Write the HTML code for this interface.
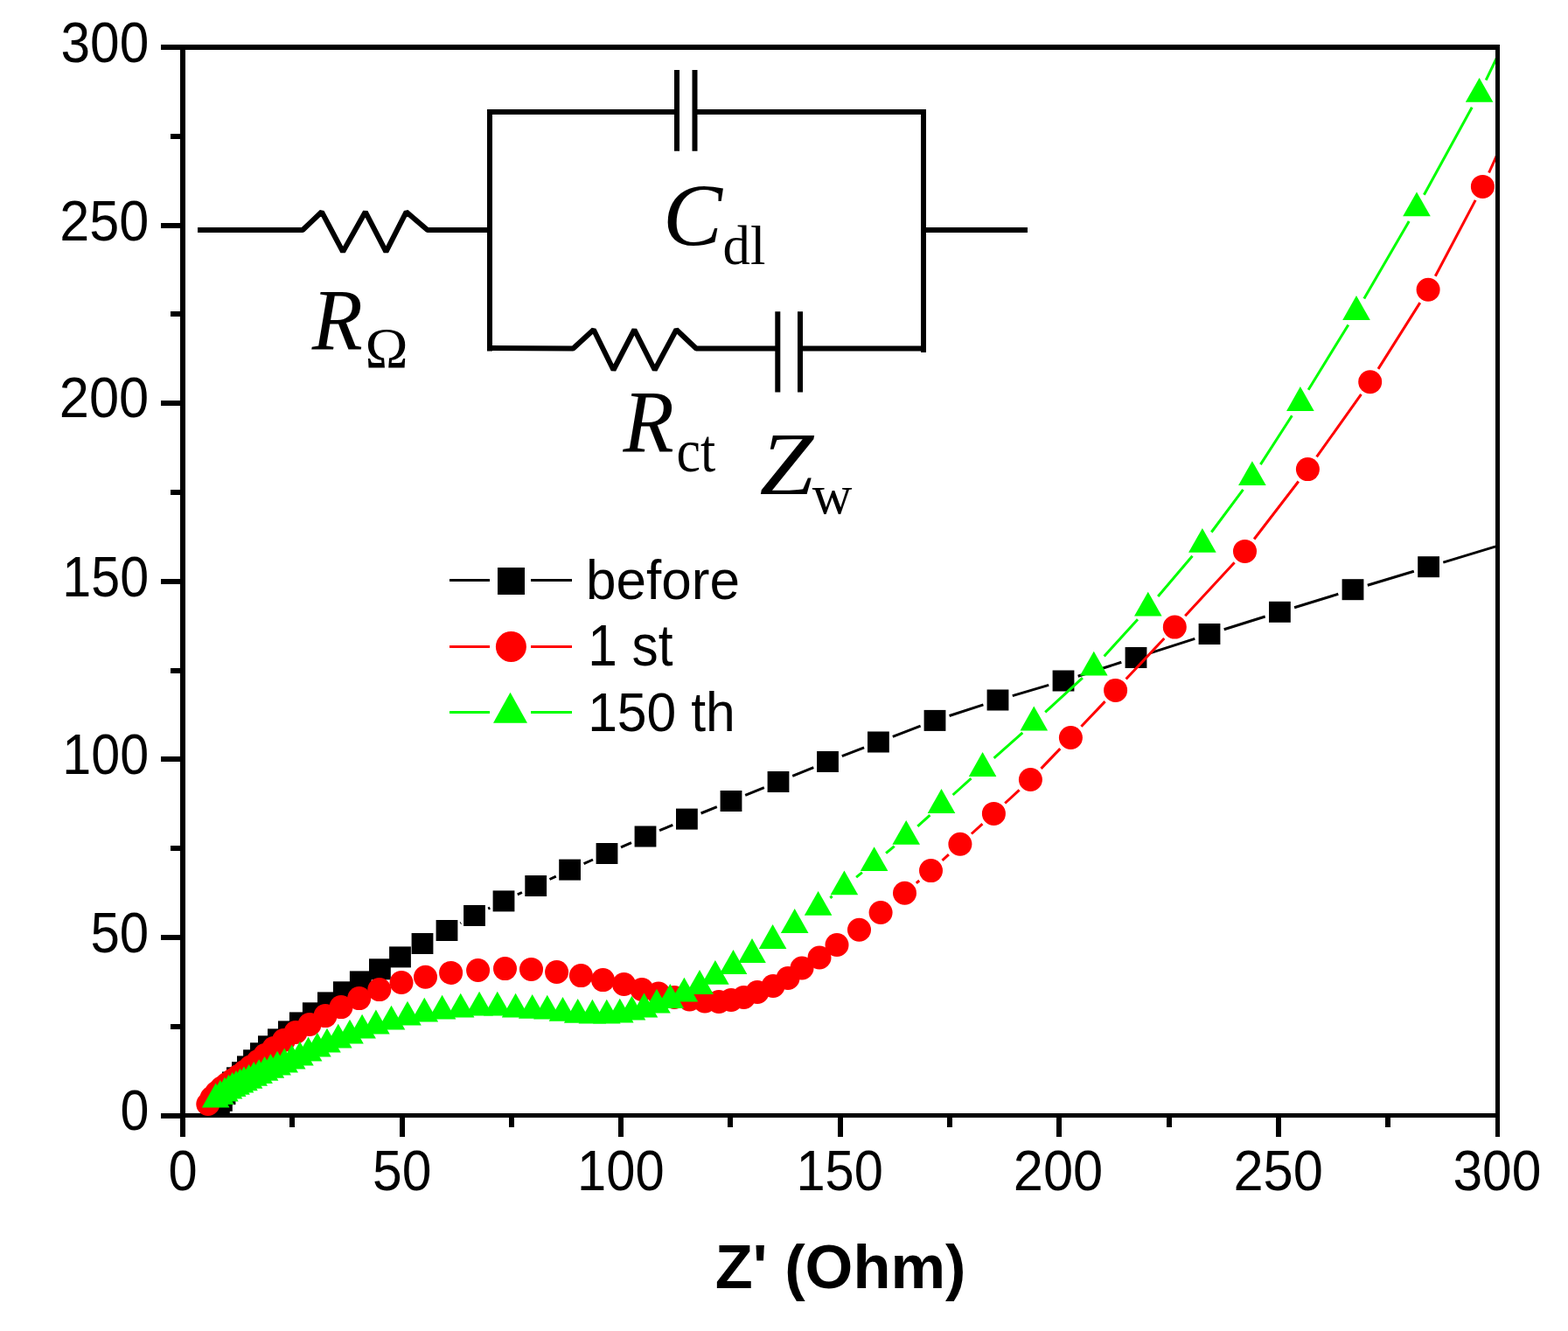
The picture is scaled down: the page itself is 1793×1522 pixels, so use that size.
<!DOCTYPE html><html><head><meta charset="utf-8"><style>html,body{margin:0;padding:0;background:#fff;}svg{display:block;}.t{font-family:"Liberation Sans",Arial,sans-serif;}.s{font-family:"Liberation Serif","Times New Roman",serif;}</style></head><body><svg width="1793" height="1522" viewBox="0 0 1793 1522"><rect width="1793" height="1522" fill="#fff"/><defs><clipPath id="pc"><rect x="212.0" y="57.0" width="1498.0" height="1216.0"/></clipPath></defs><g stroke="#000" fill="none"><path d="M206.0 54.0H1715.0" stroke-width="6"/><path d="M206.0 1275.5H1715.0" stroke-width="5"/><path d="M209.0 51.0V1278.0" stroke-width="6"/><path d="M1712.5 51.0V1278.0" stroke-width="5"/><path d="M209.0 1275.5V1300.0M209.0 1276.0H184.0M460.0 1275.5V1300.0M209.0 1072.0H184.0M710.0 1275.5V1300.0M209.0 868.0H184.0M961.0 1275.5V1300.0M209.0 665.0H184.0M1211.0 1275.5V1300.0M209.0 461.0H184.0M1462.0 1275.5V1300.0M209.0 258.0H184.0M209.0 54.0H184.0" stroke-width="6" stroke-linecap="butt"/><path d="M1712.5 1275.5V1300.0" stroke-width="5"/><path d="M334.0 1275.5V1289.0M209.0 1174.0H195.0M585.0 1275.5V1289.0M209.0 970.0H195.0M835.0 1275.5V1289.0M209.0 767.0H195.0M1086.0 1275.5V1289.0M209.0 563.0H195.0M1337.0 1275.5V1289.0M209.0 359.0H195.0M1587.0 1275.5V1289.0M209.0 156.0H195.0" stroke-width="6" stroke-linecap="butt"/></g><g clip-path="url(#pc)" fill="none" stroke-width="3.0" stroke-linecap="butt"><path d="M526.4 1055.7L527.1 1055.3M558.2 1039.2L560.3 1038.2M591.8 1022.9L596.9 1020.5M628.5 1005.5L635.8 1002.1M667.6 987.6L678.0 983.0M710.0 968.9L722.0 963.6M754.1 949.7L769.3 943.4M801.6 930.0L819.8 922.6M852.2 909.4L873.8 900.6M906.2 887.4L930.3 877.6M962.8 864.7L988.1 854.8M1020.8 842.3L1052.6 830.1M1085.6 818.5L1124.4 805.9M1157.8 795.6L1199.2 783.4M1232.7 773.2L1282.3 757.3M1315.7 746.6L1366.3 730.4M1399.7 719.8L1446.7 705.0M1480.1 694.7L1530.3 679.3M1563.8 669.2L1616.8 653.2M1650.3 643.1L1760.0 609.9" stroke="#000"/></g><g fill="#000"><rect x="238.0" y="1250.5" width="24.8" height="24.0"/><rect x="241.0" y="1246.8" width="24.8" height="24.0"/><rect x="244.6" y="1239.2" width="24.8" height="24.0"/><rect x="249.9" y="1230.4" width="24.8" height="24.0"/><rect x="254.0" y="1225.5" width="24.8" height="24.0"/><rect x="259.0" y="1220.3" width="24.8" height="24.0"/><rect x="265.0" y="1214.2" width="24.8" height="24.0"/><rect x="271.0" y="1207.4" width="24.8" height="24.0"/><rect x="278.1" y="1200.3" width="24.8" height="24.0"/><rect x="286.0" y="1192.3" width="24.8" height="24.0"/><rect x="295.0" y="1184.3" width="24.8" height="24.0"/><rect x="306.0" y="1176.4" width="24.8" height="24.0"/><rect x="318.0" y="1167.4" width="24.8" height="24.0"/><rect x="330.9" y="1157.4" width="24.8" height="24.0"/><rect x="345.9" y="1146.3" width="24.8" height="24.0"/><rect x="363.0" y="1134.4" width="24.8" height="24.0"/><rect x="380.9" y="1122.3" width="24.8" height="24.0"/><rect x="399.9" y="1110.4" width="24.8" height="24.0"/><rect x="422.0" y="1096.3" width="24.8" height="24.0"/><rect x="445.1" y="1082.4" width="24.8" height="24.0"/><rect x="470.6" y="1067.0" width="24.8" height="24.0"/><rect x="498.6" y="1052.0" width="24.8" height="24.0"/><rect x="530.1" y="1035.0" width="24.8" height="24.0"/><rect x="563.6" y="1018.4" width="24.8" height="24.0"/><rect x="600.3" y="1001.0" width="24.8" height="24.0"/><rect x="639.2" y="982.6" width="24.8" height="24.0"/><rect x="681.6" y="964.0" width="24.8" height="24.0"/><rect x="725.6" y="944.5" width="24.8" height="24.0"/><rect x="773.0" y="924.6" width="24.8" height="24.0"/><rect x="823.6" y="904.0" width="24.8" height="24.0"/><rect x="877.6" y="882.0" width="24.8" height="24.0"/><rect x="934.1" y="859.0" width="24.8" height="24.0"/><rect x="992.0" y="836.5" width="24.8" height="24.0"/><rect x="1056.6" y="811.9" width="24.8" height="24.0"/><rect x="1128.6" y="788.5" width="24.8" height="24.0"/><rect x="1203.6" y="766.5" width="24.8" height="24.0"/><rect x="1286.6" y="740.0" width="24.8" height="24.0"/><rect x="1370.6" y="713.0" width="24.8" height="24.0"/><rect x="1451.0" y="687.8" width="24.8" height="24.0"/><rect x="1534.6" y="662.2" width="24.8" height="24.0"/><rect x="1621.2" y="636.2" width="24.8" height="24.0"/></g><g clip-path="url(#pc)" fill="none" stroke-width="3.0" stroke-linecap="butt"><path d="M1047.8 1009.8L1051.2 1007.0M1077.5 983.8L1084.9 977.1M1110.9 953.5L1123.4 942.2M1149.2 918.5L1165.6 903.4M1190.5 878.9L1212.3 856.1M1236.4 830.8L1263.6 802.1M1287.6 776.6L1331.3 729.9M1355.2 704.3L1411.6 643.2M1434.1 616.5L1484.8 550.5M1505.6 522.4L1556.5 450.9M1576.0 421.9L1623.8 346.1M1641.3 315.8L1687.2 228.9M1702.6 197.5L1735.4 125.4" stroke="#f00"/></g><g fill="#f00"><circle cx="237.8" cy="1262.5" r="13.5"/><circle cx="242.0" cy="1255.5" r="13.5"/><circle cx="247.5" cy="1249.5" r="13.5"/><circle cx="253.5" cy="1244.0" r="13.5"/><circle cx="259.5" cy="1239.5" r="13.5"/><circle cx="266.0" cy="1235.0" r="13.5"/><circle cx="272.5" cy="1230.5" r="13.5"/><circle cx="279.5" cy="1225.5" r="13.5"/><circle cx="286.5" cy="1220.0" r="13.5"/><circle cx="295.0" cy="1213.5" r="13.5"/><circle cx="303.0" cy="1206.5" r="13.5"/><circle cx="313.0" cy="1198.5" r="13.5"/><circle cx="324.5" cy="1189.5" r="13.5"/><circle cx="338.0" cy="1180.5" r="13.5"/><circle cx="354.0" cy="1171.5" r="13.5"/><circle cx="372.0" cy="1161.6" r="13.5"/><circle cx="390.0" cy="1151.6" r="13.5"/><circle cx="410.7" cy="1141.6" r="13.5"/><circle cx="433.8" cy="1131.6" r="13.5"/><circle cx="459.0" cy="1123.5" r="13.5"/><circle cx="486.5" cy="1117.3" r="13.5"/><circle cx="515.6" cy="1112.4" r="13.5"/><circle cx="546.6" cy="1109.5" r="13.5"/><circle cx="577.5" cy="1107.6" r="13.5"/><circle cx="607.5" cy="1108.4" r="13.5"/><circle cx="636.6" cy="1111.5" r="13.5"/><circle cx="664.4" cy="1115.6" r="13.5"/><circle cx="689.5" cy="1120.6" r="13.5"/><circle cx="713.5" cy="1125.5" r="13.5"/><circle cx="734.0" cy="1131.5" r="13.5"/><circle cx="753.0" cy="1136.1" r="13.5"/><circle cx="771.0" cy="1140.5" r="13.5"/><circle cx="788.5" cy="1142.9" r="13.5"/><circle cx="806.0" cy="1145.0" r="13.5"/><circle cx="822.0" cy="1145.5" r="13.5"/><circle cx="836.0" cy="1143.5" r="13.5"/><circle cx="850.5" cy="1140.5" r="13.5"/><circle cx="866.0" cy="1134.5" r="13.5"/><circle cx="884.0" cy="1127.5" r="13.5"/><circle cx="901.0" cy="1118.5" r="13.5"/><circle cx="917.0" cy="1107.0" r="13.5"/><circle cx="937.0" cy="1095.0" r="13.5"/><circle cx="957.0" cy="1080.5" r="13.5"/><circle cx="982.5" cy="1063.2" r="13.5"/><circle cx="1007.1" cy="1043.5" r="13.5"/><circle cx="1034.5" cy="1021.2" r="13.5"/><circle cx="1064.5" cy="995.6" r="13.5"/><circle cx="1097.9" cy="965.3" r="13.5"/><circle cx="1136.4" cy="930.4" r="13.5"/><circle cx="1178.4" cy="891.5" r="13.5"/><circle cx="1224.4" cy="843.5" r="13.5"/><circle cx="1275.6" cy="789.4" r="13.5"/><circle cx="1343.3" cy="717.1" r="13.5"/><circle cx="1423.5" cy="630.4" r="13.5"/><circle cx="1495.4" cy="536.6" r="13.5"/><circle cx="1566.7" cy="436.7" r="13.5"/><circle cx="1633.1" cy="331.3" r="13.5"/><circle cx="1695.4" cy="213.4" r="13.5"/></g><g clip-path="url(#pc)" fill="none" stroke-width="3.0" stroke-linecap="butt"><path d="M949.3 1026.7L951.7 1024.8M979.1 1003.1L985.9 997.6M1013.1 975.6L1022.7 967.6M1049.3 944.9L1063.4 932.2M1089.6 909.0L1110.5 890.2M1136.6 866.9L1169.3 837.8M1195.2 814.3L1237.9 775.1M1262.6 750.4L1301.0 708.2M1324.2 682.0L1363.5 635.8M1385.3 608.5L1421.5 559.8M1441.4 531.1L1477.4 475.3M1496.1 445.7L1541.8 371.5M1559.8 341.5L1611.2 253.1M1628.4 222.7L1683.2 122.8M1699.2 91.7L1731.6 24.3" stroke="#0f0"/></g><g fill="#0f0"><path d="M246.7 1238.6L262.5 1266.4L230.9 1266.4Z"/><path d="M251.8 1235.1L267.6 1262.9L236.0 1262.9Z"/><path d="M256.9 1231.8L272.7 1259.6L241.1 1259.6Z"/><path d="M261.5 1228.7L277.3 1256.5L245.7 1256.5Z"/><path d="M265.7 1226.1L281.5 1253.9L249.9 1253.9Z"/><path d="M270.0 1223.9L285.8 1251.7L254.2 1251.7Z"/><path d="M274.5 1221.7L290.3 1249.5L258.7 1249.5Z"/><path d="M279.0 1219.5L294.8 1247.3L263.2 1247.3Z"/><path d="M284.6 1216.9L300.4 1244.7L268.8 1244.7Z"/><path d="M290.2 1213.9L306.0 1241.7L274.4 1241.7Z"/><path d="M296.1 1211.3L311.9 1239.1L280.3 1239.1Z"/><path d="M302.6 1208.0L318.4 1235.8L286.8 1235.8Z"/><path d="M309.4 1204.9L325.2 1232.7L293.6 1232.7Z"/><path d="M317.1 1201.7L332.9 1229.5L301.3 1229.5Z"/><path d="M325.2 1198.6L341.0 1226.4L309.4 1226.4Z"/><path d="M333.7 1194.6L349.5 1222.4L317.9 1222.4Z"/><path d="M342.9 1190.8L358.7 1218.6L327.1 1218.6Z"/><path d="M352.6 1185.8L368.4 1213.6L336.8 1213.6Z"/><path d="M362.9 1180.7L378.7 1208.5L347.1 1208.5Z"/><path d="M374.0 1175.8L389.8 1203.6L358.2 1203.6Z"/><path d="M386.8 1170.8L402.6 1198.6L371.0 1198.6Z"/><path d="M400.0 1165.7L415.8 1193.5L384.2 1193.5Z"/><path d="M414.1 1159.7L429.9 1187.5L398.3 1187.5Z"/><path d="M429.9 1154.6L445.7 1182.4L414.1 1182.4Z"/><path d="M447.5 1149.8L463.3 1177.6L431.7 1177.6Z"/><path d="M466.0 1144.8L481.8 1172.6L450.2 1172.6Z"/><path d="M485.3 1140.8L501.1 1168.6L469.5 1168.6Z"/><path d="M505.6 1137.7L521.4 1165.5L489.8 1165.5Z"/><path d="M526.7 1135.7L542.5 1163.5L510.9 1163.5Z"/><path d="M548.1 1133.8L563.9 1161.6L532.3 1161.6Z"/><path d="M568.8 1133.8L584.6 1161.6L553.0 1161.6Z"/><path d="M589.6 1135.7L605.4 1163.5L573.8 1163.5Z"/><path d="M608.7 1136.9L624.5 1164.7L592.9 1164.7Z"/><path d="M625.8 1137.7L641.6 1165.5L610.0 1165.5Z"/><path d="M643.5 1139.9L659.3 1167.7L627.7 1167.7Z"/><path d="M660.7 1141.9L676.5 1169.7L644.9 1169.7Z"/><path d="M677.4 1142.7L693.2 1170.5L661.6 1170.5Z"/><path d="M693.8 1142.7L709.6 1170.5L678.0 1170.5Z"/><path d="M708.8 1141.8L724.6 1169.6L693.0 1169.6Z"/><path d="M722.5 1138.8L738.3 1166.6L706.7 1166.6Z"/><path d="M736.5 1135.6L752.3 1163.4L720.7 1163.4Z"/><path d="M751.0 1130.8L766.8 1158.6L735.2 1158.6Z"/><path d="M766.3 1125.1L782.1 1152.9L750.5 1152.9Z"/><path d="M782.4 1117.8L798.2 1145.6L766.6 1145.6Z"/><path d="M800.0 1109.1L815.8 1136.9L784.2 1136.9Z"/><path d="M817.9 1097.9L833.7 1125.7L802.1 1125.7Z"/><path d="M838.5 1086.1L854.3 1113.9L822.7 1113.9Z"/><path d="M860.0 1073.1L875.8 1100.9L844.2 1100.9Z"/><path d="M883.6 1057.1L899.4 1084.9L867.8 1084.9Z"/><path d="M908.7 1039.1L924.5 1066.9L892.9 1066.9Z"/><path d="M935.6 1019.0L951.4 1046.8L919.8 1046.8Z"/><path d="M965.4 995.5L981.2 1023.3L949.6 1023.3Z"/><path d="M999.6 968.2L1015.4 996.0L983.8 996.0Z"/><path d="M1036.2 938.0L1052.0 965.8L1020.4 965.8Z"/><path d="M1076.5 902.1L1092.3 929.9L1060.7 929.9Z"/><path d="M1123.6 860.1L1139.4 887.9L1107.8 887.9Z"/><path d="M1182.3 807.6L1198.1 835.4L1166.5 835.4Z"/><path d="M1250.8 744.8L1266.6 772.6L1235.0 772.6Z"/><path d="M1312.8 676.8L1328.6 704.6L1297.0 704.6Z"/><path d="M1374.9 604.0L1390.7 631.8L1359.1 631.8Z"/><path d="M1431.9 527.3L1447.7 555.1L1416.1 555.1Z"/><path d="M1486.9 442.1L1502.7 469.9L1471.1 469.9Z"/><path d="M1551.0 338.1L1566.8 365.9L1535.2 365.9Z"/><path d="M1620.0 219.5L1635.8 247.3L1604.2 247.3Z"/><path d="M1691.6 89.0L1707.4 116.8L1675.8 116.8Z"/></g><g fill="#000"><text transform="matrix(0.6038 0 0 0.6509 69.48 71.25)" font-family='"Liberation Sans",Arial,sans-serif' font-size="100">300</text><text transform="matrix(0.6120 0 0 0.6481 68.14 274.65)" font-family='"Liberation Sans",Arial,sans-serif' font-size="100">250</text><text transform="matrix(0.6139 0 0 0.6509 67.83 477.25)" font-family='"Liberation Sans",Arial,sans-serif' font-size="100">200</text><text transform="matrix(0.5923 0 0 0.6524 71.36 682.25)" font-family='"Liberation Sans",Arial,sans-serif' font-size="100">150</text><text transform="matrix(0.5923 0 0 0.6481 71.36 885.35)" font-family='"Liberation Sans",Arial,sans-serif' font-size="100">100</text><text transform="matrix(0.6000 0 0 0.6509 103.50 1089.25)" font-family='"Liberation Sans",Arial,sans-serif' font-size="100">50</text><text transform="matrix(0.5916 0 0 0.6524 137.43 1292.35)" font-family='"Liberation Sans",Arial,sans-serif' font-size="100">0</text><text transform="matrix(0.5958 0 0 0.6509 192.42 1361.35)" font-family='"Liberation Sans",Arial,sans-serif' font-size="100">0</text><text transform="matrix(0.6058 0 0 0.6509 425.98 1361.35)" font-family='"Liberation Sans",Arial,sans-serif' font-size="100">50</text><text transform="matrix(0.5974 0 0 0.6509 660.12 1361.35)" font-family='"Liberation Sans",Arial,sans-serif' font-size="100">100</text><text transform="matrix(0.5955 0 0 0.6509 910.43 1361.35)" font-family='"Liberation Sans",Arial,sans-serif' font-size="100">150</text><text transform="matrix(0.6139 0 0 0.6509 1158.83 1361.35)" font-family='"Liberation Sans",Arial,sans-serif' font-size="100">200</text><text transform="matrix(0.6139 0 0 0.6509 1410.43 1361.35)" font-family='"Liberation Sans",Arial,sans-serif' font-size="100">250</text><text transform="matrix(0.6050 0 0 0.6524 1661.38 1361.45)" font-family='"Liberation Sans",Arial,sans-serif' font-size="100">300</text><text transform="matrix(0.7045 0 0 0.7071 817.79 1473.29)" font-family='"Liberation Sans",Arial,sans-serif' font-size="100" font-weight="bold">Z' (Ohm)</text></g><g stroke-width="3" fill="none"><path d="M514 663.5H560M607 663.5H654" stroke="#000"/><path d="M514 739.5H560M607 739.5H654" stroke="#f00"/><path d="M514 814.5H560M607 814.5H654" stroke="#0f0"/></g><rect x="569" y="649" width="31" height="31" fill="#000"/><circle cx="584.4" cy="739.5" r="17.5" fill="#f00"/><path d="M583.5 791.7L603 826.8L564 826.8Z" fill="#0f0"/><g fill="#000"><text transform="matrix(0.6205 0 0 0.6367 669.97 685.16)" font-family='"Liberation Sans",Arial,sans-serif' font-size="100">before</text><text transform="matrix(0.6039 0 0 0.6586 672.27 761.24)" font-family='"Liberation Sans",Arial,sans-serif' font-size="100">1 st</text><text transform="matrix(0.6064 0 0 0.6244 672.15 836.08)" font-family='"Liberation Sans",Arial,sans-serif' font-size="100">150 th</text></g><g stroke="#000" stroke-width="6" fill="none" stroke-linejoin="bevel"><path d="M226 263H346.1L367.9 242.3L392.1 287.9L417.8 242.3L441.4 287.9L464.6 242.3L488.8 263H560"/><path d="M560 397.9L655.4 398.5L678.8 377L701.5 423L725.4 377L748.7 423L773.4 377L796.1 398.5H889.3M915 398.5H1056"/></g><g stroke="#000" stroke-width="6" fill="none" stroke-linecap="butt"><path d="M560 126V401.5M557 128H774M794.5 128H1059M1056 126V403M1056 263H1175"/><path d="M774 80V172.7M794.5 80V172.7"/><path d="M889.3 356.3V448.5M915 356.3V448.5"/></g><g fill="#000"><text transform="matrix(0.9500 0 0 1.0051 356.63 398.90)" font-family='"Liberation Serif","Times New Roman",serif' font-size="100" font-style="italic">R</text><text transform="matrix(0.6613 0 0 0.6513 417.47 420.00)" font-family='"Liberation Serif","Times New Roman",serif' font-size="100">&#937;</text><text transform="matrix(1.0194 0 0 1.0114 758.12 280.99)" font-family='"Liberation Serif","Times New Roman",serif' font-size="100" font-style="italic">C</text><text transform="matrix(0.6264 0 0 0.6441 826.60 302.46)" font-family='"Liberation Serif","Times New Roman",serif' font-size="100">dl</text><text transform="matrix(0.9533 0 0 1.0051 712.54 516.90)" font-family='"Liberation Serif","Times New Roman",serif' font-size="100" font-style="italic">R</text><text transform="matrix(0.6206 0 0 0.6890 773.42 538.51)" font-family='"Liberation Serif","Times New Roman",serif' font-size="100">ct</text><text transform="matrix(1.1109 0 0 1.0051 868.52 565.00)" font-family='"Liberation Serif","Times New Roman",serif' font-size="100" font-style="italic">Z</text><text transform="matrix(0.6321 0 0 0.6426 928.70 587.36)" font-family='"Liberation Serif","Times New Roman",serif' font-size="100">w</text></g></svg></body></html>
